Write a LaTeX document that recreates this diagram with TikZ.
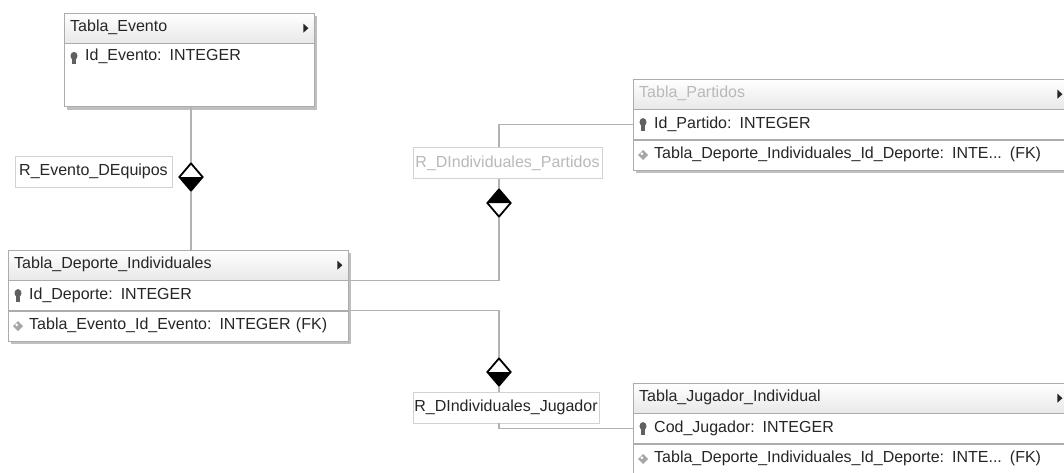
\documentclass[tikz,border=0pt]{standalone}
\usepackage{fontspec}
\setmainfont{Liberation Sans}
\usetikzlibrary{positioning,calc,shapes.geometric,backgrounds}

\newcommand{\tabfont}{\fontsize{16pt}{18pt}\selectfont}

\tikzset{
  tabhead/.style={draw=gray!65, top color=white, bottom color=gray!18, anchor=north west,
    minimum height=30, text width=#1, inner xsep=6, inner ysep=0, text height=11, text depth=4,
    align=left, font=\tabfont, text=black!85},
  tabrow/.style={draw=gray!65, fill=white, minimum height=30, text width=#1, inner xsep=6,
    inner ysep=0, text height=11, text depth=4, align=left, font=\tabfont, text=black!85},
  rlabel/.style={draw=gray!35, fill=white, inner sep=0, minimum height=31, font=\tabfont, text=black!85},
  conn/.style={draw=gray!60, line width=1.2},
  rombo/.style={diamond, draw=black, line width=1.8, fill=white, minimum width=24, minimum height=28, inner sep=0},
  romboinf/.style={rombo, path picture={\fill[black] (path picture bounding box.west) -- (path picture bounding box.south) -- (path picture bounding box.east) -- cycle;}},
  rombosup/.style={rombo, path picture={\fill[black] (path picture bounding box.west) -- (path picture bounding box.north) -- (path picture bounding box.east) -- cycle;}},
  llave/.pic={\fill[gray!75!black] (0,-2.5) ellipse (3.5 and 4); \fill[gray!75!black] (-1.8,0) rectangle (1.8,6);},
  fkmarca/.pic={\fill[gray!70] (0,-5) -- (5,0) -- (0,5) -- (-5,0) -- cycle; \fill[white] (-1.2,-1.2) circle (1.5);},
  flecha/.pic={\fill[black!85] (0,-4.5) -- (5,0) -- (0,4.5) -- cycle;}
}

\begin{document}
\begin{tikzpicture}[x=1pt, y=-1pt]
  \useasboundingbox (0,0) rectangle (1064,473);

  % tablas
  \node[tabhead=238] (evh) at (64,13) {Tabla\_Evento};
  \node[tabrow=238, below=0pt of evh, inner ysep=6, text depth=40] (ev1) {\hspace*{15pt}Id\_Evento: INTEGER};

  \node[tabhead=328] (deh) at (8,250) {Tabla\_Deporte\_Individuales};
  \node[tabrow=328, below=0pt of deh] (de1) {\hspace*{15pt}Id\_Deporte: INTEGER};
  \node[tabrow=328, below=0pt of de1] (de2) {\hspace*{15pt}Tabla\_Evento\_Id\_Evento: INTEGER (FK)};

  \node[tabhead=423, text=gray!55] (pah) at (633,79) {Tabla\_Partidos};
  \node[tabrow=423, below=0pt of pah] (pa1) {\hspace*{15pt}Id\_Partido: INTEGER};
  \node[tabrow=423, below=0pt of pa1] (pa2) {\hspace*{15pt}Tabla\_Deporte\_Individuales\_Id\_Deporte: INTE... (FK)};

  \node[tabhead=423] (juh) at (633,383) {Tabla\_Jugador\_Individual};
  \node[tabrow=423, below=0pt of juh] (ju1) {\hspace*{15pt}Cod\_Jugador: INTEGER};
  \node[tabrow=423, below=0pt of ju1] (ju2) {\hspace*{15pt}Tabla\_Deporte\_Individuales\_Id\_Deporte: INTE... (FK)};

  \begin{scope}[on background layer]
    \fill[white] (0,0) rectangle (1064,473);
    \fill[gray!50] ($(evh.north west)+(3,3)$) rectangle ($(ev1.south east)+(3,3)$);
    \fill[gray!50] ($(deh.north west)+(3,3)$) rectangle ($(de2.south east)+(3,3)$);
    \fill[gray!50] ($(pah.north west)+(3,3)$) rectangle ($(pa2.south east)+(3,3)$);
    \fill[gray!50] ($(juh.north west)+(3,3)$) rectangle ($(ju2.south east)+(3,3)$);
  \end{scope}

  % iconos
  \pic at ($(ev1.north west)+(10,15)$) {llave};
  \pic at ($(de1.west)+(10,0)$) {llave};
  \pic at ($(de2.west)+(10,0)$) {fkmarca};
  \pic at ($(pa1.west)+(10,0)$) {llave};
  \pic at ($(pa2.west)+(10,0)$) {fkmarca};
  \pic at ($(ju1.west)+(10,0)$) {llave};
  \pic at ($(ju2.west)+(10,0)$) {fkmarca};
  \pic at ($(evh.east)+(-11,0)$) {flecha};
  \pic at ($(deh.east)+(-11,0)$) {flecha};
  \pic at ($(pah.east)+(-11,0)$) {flecha};
  \pic at ($(juh.east)+(-11,0)$) {flecha};

  % relaciones
  \node[romboinf] (d1) at (191,177) {};
  \node[rombosup] (d2) at (499,203) {};
  \node[romboinf] (d3) at (499,372) {};

  \draw[conn] (ev1.south -| d1) -- (d1.north);
  \draw[conn] (d1.south) -- (d1.south |- deh.north);
  \draw[conn] (de1.north east) -| (d2.south);
  \draw[conn] (de2.north east) -| (d3.north);

  \node[rlabel, minimum width=157] (r1) at (93.5,171.5) {R\_Evento\_DEquipos};
  \node[rlabel, minimum width=189, text=gray!55] (r2) at (507.5,163) {R\_DIndividuales\_Partidos};
  \node[rlabel, minimum width=186] (r3) at (506,407.5) {R\_DIndividuales\_Jugador};

  \draw[conn] (d2.north) -- (d2.north |- r2.south);
  \draw[conn] (r2.north -| d2) |- (pa1.west);
  \draw[conn] (d3.south) -- (d3.south |- r3.north);
  \draw[conn] (r3.south -| d3) |- (ju1.west);
\end{tikzpicture}
\end{document}
